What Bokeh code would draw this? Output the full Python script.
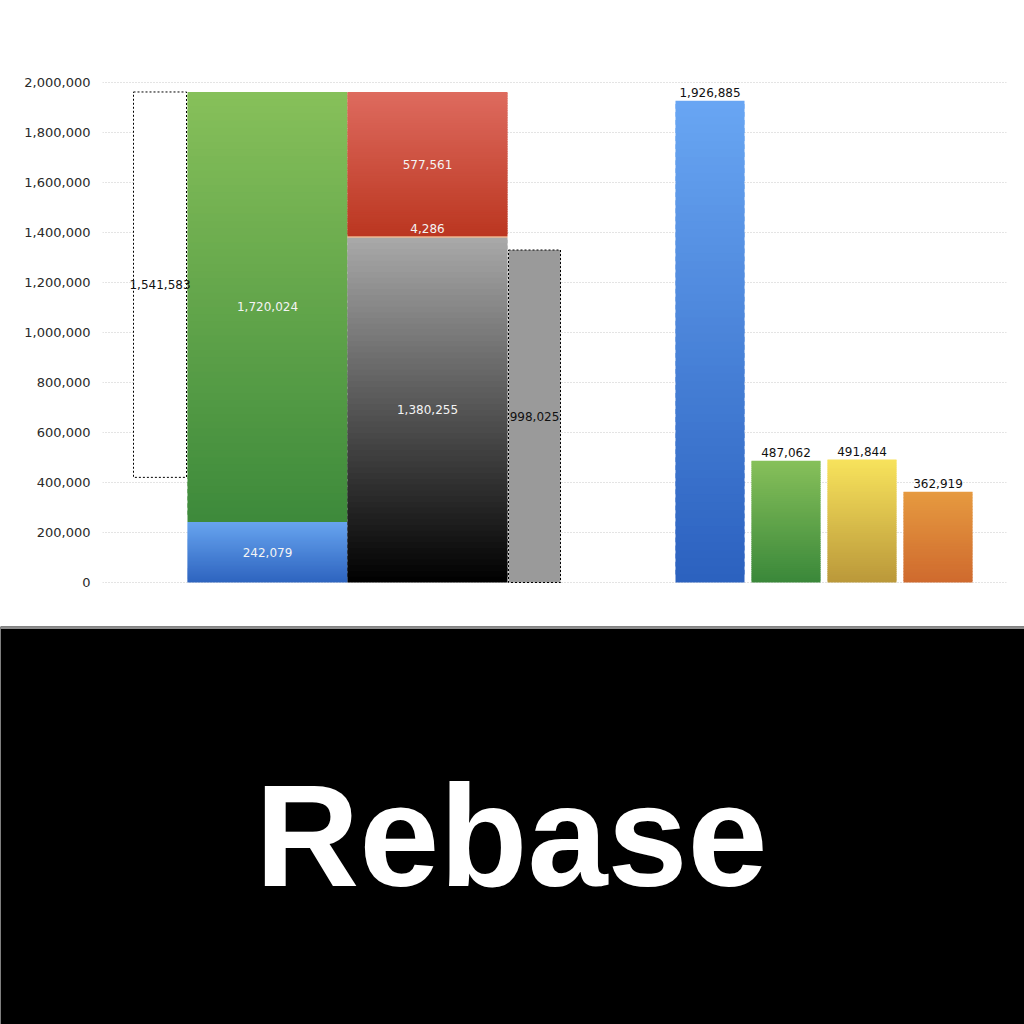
from bokeh.plotting import figure
from bokeh.models import Range1d, FixedTicker, NumeralTickFormatter, ColumnDataSource
from bokeh.layouts import column
from bokeh.core.properties import value
from bokeh.embed import file_html
from bokeh.resources import INLINE

# ---------------- data ----------------
stack_a_values = [242079, 1720024]          # blue, green
stack_b_values = [1380255, 4286, 577561]    # gray/black, orange, red
float_box_label = 1541583                    # dashed white box hanging from top of stack A
gray_box_height = 1330000                    # dashed gray box height
gray_box_label = 998025
right_values = [1926885, 487062, 491844, 362919]
y_ticks = [0, 200000, 400000, 600000, 800000, 1000000,
           1200000, 1400000, 1600000, 1800000, 2000000]
title_text = "Rebase"

# ---------------- layout / styles ----------------
FONT = "DejaVu Sans"
stack_a_x = (85, 245)
stack_b_x = (245, 405)
float_box_x = (31, 84)
gray_box_x = (406, 458)
right_x = [(573, 642), (649, 718), (725, 794), (801, 870)]

stack_a_colors = [("#67A4EF", "#2E64BF"), ("#87C05A", "#3D8A3B")]
stack_b_colors = [("#A9A9A9", "#000000"), ("#E89A66", "#E89A66"), ("#DE6B5F", "#BB3620")]
right_colors = [("#69A6F3", "#2B61BF"), ("#87C05A", "#3A883A"),
                ("#F8E35C", "#BA983A"), ("#E69A40", "#CF6A2E")]


def hex2rgb(h):
    h = h.lstrip("#")
    return tuple(int(h[i:i + 2], 16) for i in (0, 2, 4))


def rgb2hex(c):
    return "#%02x%02x%02x" % tuple(int(round(v)) for v in c)


slices = dict(left=[], right=[], bottom=[], top=[], color=[])


def gradient_bar(x0, x1, b, t, c_top, c_bot, n=60):
    ct, cb = hex2rgb(c_top), hex2rgb(c_bot)
    h = (t - b)
    if h <= 20000:
        n = 1
    for i in range(n):
        y0 = b + h * i / n
        y1 = b + h * (i + 1) / n
        if i < n - 1:
            y1 += h / n * 0.6
        f = (i + 0.5) / n
        col = tuple(cb[k] + (ct[k] - cb[k]) * f for k in range(3))
        slices["left"].append(x0)
        slices["right"].append(x1)
        slices["bottom"].append(y0)
        slices["top"].append(y1)
        slices["color"].append(rgb2hex(col))


p = figure(width=1024, height=626, output_backend="svg", toolbar_location=None,
           x_range=Range1d(0, 904), y_range=Range1d(-176000, 2328000),
           x_axis_location=None, min_border_left=102, min_border_right=18,
           min_border_top=0, min_border_bottom=0)
p.frame_align = False
p.outline_line_color = None
p.background_fill_color = "white"
p.border_fill_color = "white"
p.xgrid.visible = False
p.ygrid.ticker = FixedTicker(ticks=y_ticks)
p.ygrid.grid_line_color = "#c8c8c8"
p.ygrid.grid_line_dash = "1 2"
p.ygrid.grid_line_width = 1
p.yaxis.ticker = FixedTicker(ticks=y_ticks)
p.yaxis.formatter = NumeralTickFormatter(format="0,0")
p.yaxis.axis_line_color = None
p.yaxis.major_tick_line_color = None
p.yaxis.minor_tick_line_color = None
p.yaxis.major_tick_out = 0
p.yaxis.major_tick_in = 0
p.yaxis.major_label_standoff = 12
p.yaxis.major_label_text_font = FONT
p.yaxis.major_label_text_font_size = "13px"
p.yaxis.major_label_text_color = "#2a2a2a"

# stack A
cum = 0
labels_in = dict(x=[], y=[], text=[])
for v, (ct, cb) in zip(stack_a_values, stack_a_colors):
    gradient_bar(stack_a_x[0], stack_a_x[1], cum, cum + v, ct, cb)
    labels_in["x"].append((stack_a_x[0] + stack_a_x[1]) / 2)
    labels_in["y"].append(cum + v / 2)
    labels_in["text"].append(f"{v:,}")
    cum += v
stack_a_top = cum

# stack B
cum = 0
small_label = None
for v, (ct, cb) in zip(stack_b_values, stack_b_colors):
    gradient_bar(stack_b_x[0], stack_b_x[1], cum, cum + v, ct, cb)
    if v < 20000:
        small_label = ((stack_b_x[0] + stack_b_x[1]) / 2, cum + v, f"{v:,}")
    else:
        labels_in["x"].append((stack_b_x[0] + stack_b_x[1]) / 2)
        labels_in["y"].append(cum + v / 2)
        labels_in["text"].append(f"{v:,}")
    cum += v

# right bars
above = dict(x=[], y=[], text=[])
for (x0, x1), v, (ct, cb) in zip(right_x, right_values, right_colors):
    gradient_bar(x0, x1, 0, v, ct, cb)
    above["x"].append((x0 + x1) / 2)
    above["y"].append(v)
    above["text"].append(f"{v:,}")

p.quad(left="left", right="right", bottom="bottom", top="top",
       fill_color="color", line_color=None, source=ColumnDataSource(slices))

# dashed floating white box
fb_bottom = stack_a_top - float_box_label
p.quad(left=[float_box_x[0]], right=[float_box_x[1]], bottom=[fb_bottom], top=[stack_a_top],
       fill_color="white", line_color="black", line_dash="2 2", line_width=1)
# dashed gray box
p.quad(left=[gray_box_x[0]], right=[gray_box_x[1]], bottom=[0], top=[gray_box_height],
       fill_color="#9a9a9a", line_color="black", line_dash="2 2", line_width=1)

p.text(x="x", y="y", text="text", source=ColumnDataSource(labels_in),
       text_align="center", text_baseline="middle", text_color="#f4f4f4",
       text_font=value(FONT), text_font_size="12px")
if small_label:
    p.text(x=[small_label[0]], y=[small_label[1]], text=[small_label[2]],
           text_align="center", text_baseline="bottom", text_color="#f4f4f4",
           text_font=value(FONT), text_font_size="12px", y_offset=-3)

box_labels = dict(
    x=[(float_box_x[0] + float_box_x[1]) / 2, (gray_box_x[0] + gray_box_x[1]) / 2],
    y=[(fb_bottom + stack_a_top) / 2, gray_box_height / 2],
    text=[f"{float_box_label:,}", f"{gray_box_label:,}"])
p.text(x="x", y="y", text="text", source=ColumnDataSource(box_labels),
       text_align="center", text_baseline="middle", text_color="#111111",
       text_font=value(FONT), text_font_size="12px")

p.text(x="x", y="y", text="text", source=ColumnDataSource(above),
       text_align="center", text_baseline="bottom", text_color="#111111",
       text_font=value(FONT), text_font_size="12px", y_offset=-4)

# bottom black band with title
q = figure(width=1024, height=398, output_backend="svg", toolbar_location=None,
           x_range=Range1d(0, 1024), y_range=Range1d(0, 398),
           x_axis_location=None, y_axis_location=None,
           min_border=0)
q.frame_align = False
q.outline_line_color = None
q.background_fill_color = "black"
q.border_fill_color = "black"
q.grid.visible = False
q.quad(left=[0], right=[1024], bottom=[395.5], top=[398], fill_color="#8c8c8c", line_color=None)
q.text(x=[511], y=[188], text=[title_text], text_align="center", text_baseline="alphabetic",
       text_color="white", text_font=value("Liberation Sans"), text_font_style="bold",
       text_font_size="144px")

layout = column(p, q, spacing=0)
open("out.html", "w").write(file_html(layout, INLINE))
